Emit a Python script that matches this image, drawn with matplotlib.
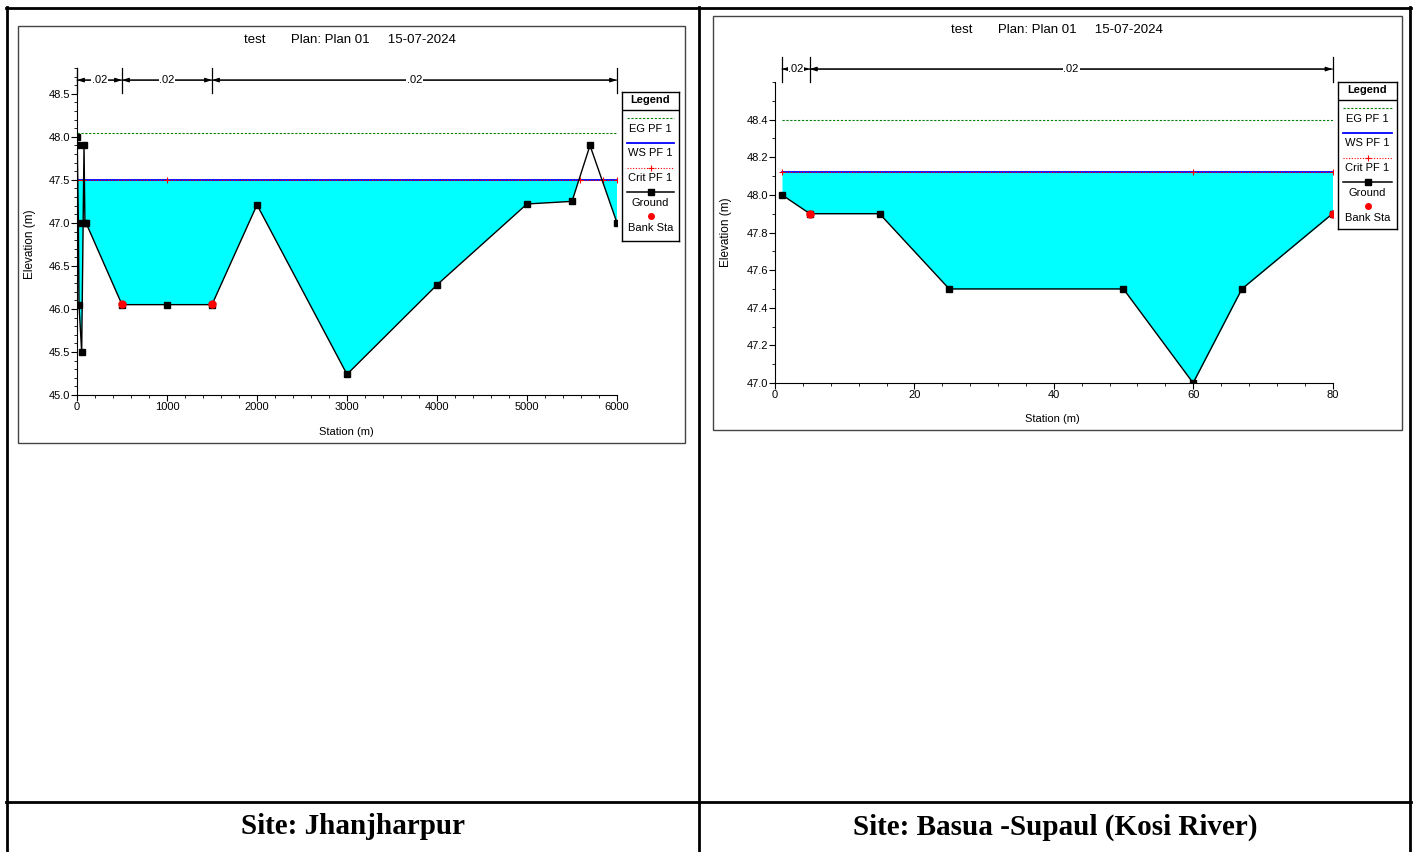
import matplotlib
matplotlib.use('Agg')
import matplotlib.pyplot as plt
from matplotlib.lines import Line2D
from matplotlib.patches import Rectangle
from matplotlib.ticker import MultipleLocator, FormatStrFormatter

plt.rcParams['font.family'] = ['Liberation Sans', 'DejaVu Sans']

W, H = 1418, 852

title = 'test       Plan: Plan 01     15-07-2024'

# Site: Jhanjharpur
sta_j = [0, 3, 15, 22, 52, 78, 88, 100, 500, 1000, 1500, 2000, 3000, 4000, 5000, 5500, 5700, 6000]
elev_j = [48.0, 47.9, 47.0, 46.05, 45.5, 47.9, 47.0, 47.0, 46.05, 46.05, 46.05, 47.21, 45.24, 46.28, 47.22, 47.25, 47.9, 47.0]
bank_sta_j = [500, 1500]
bank_elev_j = [46.06, 46.06]
ws_j = 47.5
eg_j = 48.04
crit_sta_j = [0, 63, 1000, 5590, 5840, 6000]
n_bounds_j = [0, 500, 1500, 6000]
n_vals_j = ['.02', '.02', '.02']

# Site: Basua -Supaul (Kosi River)
sta_b = [1, 5, 15, 25, 50, 60, 67, 80]
elev_b = [48.0, 47.9, 47.9, 47.5, 47.5, 47.0, 47.5, 47.9]
bank_sta_b = [5, 80]
bank_elev_b = [47.9, 47.9]
ws_b = 48.12
eg_b = 48.40
crit_sta_b = [1, 60, 80]
n_bounds_b = [1, 5, 80]
n_vals_b = ['.02', '.02']

captions = ['Site: Jhanjharpur', 'Site: Basua -Supaul (Kosi River)']


def frect(x0, y0, x1, y1):
    return [x0 / W, 1 - y1 / H, (x1 - x0) / W, (y1 - y0) / H]


def cross_section(ax, sta, elev, bank_sta, bank_elev, ws, eg, crit_sta,
                  n_bounds, n_vals, bar_y, tick_lo, tick_hi):
    ws_line = [ws] * len(sta)
    ax.fill_between(sta, elev, ws_line, where=[e < ws for e in elev],
                    interpolate=True, color='#00ffff', lw=0, zorder=1)
    ax.plot([sta[0], sta[-1]], [eg, eg], color='#008000', lw=0.8,
            ls=(0, (2, 1.5)), zorder=2)
    ax.plot([sta[0], sta[-1]], [ws, ws], color='#0000ff', lw=1.3, zorder=3)
    ax.plot(crit_sta, [ws] * len(crit_sta), color='#ff0000', lw=0.8,
            ls=(0, (1, 1.5)), marker='+', ms=5, mew=0.8, zorder=4)
    ax.plot(sta, elev, color='black', lw=1.0, marker='s', ms=4.5, zorder=5)
    ax.plot(bank_sta, bank_elev, ls='none', marker='o', ms=5,
            color='#ff0000', zorder=6)

    # manning n bar
    tr = ax.get_xaxis_transform()
    head = '-|>,head_length=0.4,head_width=0.13'
    for b in n_bounds:
        ax.plot([b, b], [tick_lo, tick_hi], color='black', lw=0.9,
                transform=tr, clip_on=False)
    for i, n in enumerate(n_vals):
        x0, x1 = n_bounds[i], n_bounds[i + 1]
        ax.annotate('', xy=(x1, bar_y), xytext=(x0, bar_y), xycoords=tr,
                    textcoords=tr,
                    arrowprops=dict(arrowstyle=head, color='black', lw=0.8,
                                    shrinkA=0, shrinkB=0))
        ax.annotate('', xy=(x0, bar_y), xytext=(x1, bar_y), xycoords=tr,
                    textcoords=tr,
                    arrowprops=dict(arrowstyle=head, color='black', lw=0.8,
                                    shrinkA=0, shrinkB=0))
        ax.text((x0 + x1) / 2, bar_y, n, transform=tr, ha='center', va='center',
                fontsize=8, bbox=dict(fc='white', ec='none', pad=0.5), zorder=10)

    for s in ['top', 'right']:
        ax.spines[s].set_visible(False)
    ax.tick_params(which='major', direction='out', length=4, labelsize=8, pad=1)
    ax.tick_params(which='minor', direction='out', length=2.5)
    ax.yaxis.set_major_formatter(FormatStrFormatter('%.1f'))


def legend_box(x0, y0, x1, y1):
    lg = plt.gcf().add_axes(frect(x0, y0, x1, y1))
    w, h = x1 - x0, y1 - y0
    lg.set_xlim(0, w)
    lg.set_ylim(h, 0)
    lg.set_xticks([])
    lg.set_yticks([])
    for s in lg.spines.values():
        s.set_linewidth(1.0)
    lg.text(w / 2, 8, 'Legend', ha='center', va='center', fontsize=8, fontweight='bold')
    lg.plot([0, w], [18, 18], color='black', lw=1.0)
    m = 5
    lg.plot([m, w - m], [26, 26], color='#008000', lw=0.8, ls=(0, (2, 1.5)))
    lg.plot([m, w - m], [51, 51], color='#0000ff', lw=1.3)
    lg.plot([m, w - m], [76, 76], color='#ff0000', lw=0.8, ls=(0, (1, 1.5)))
    lg.plot([w / 2], [76], marker='+', color='#ff0000', ms=5, mew=0.8)
    lg.plot([m, w - m], [100, 100], color='black', lw=1.1)
    lg.plot([w / 2], [100], marker='s', color='black', ms=4.5)
    lg.plot([w / 2], [124], marker='o', color='#ff0000', ms=4)
    for yy, t in zip([37, 61, 86, 111, 136],
                     ['EG PF 1', 'WS PF 1', 'Crit PF 1', 'Ground', 'Bank Sta']):
        lg.text(w / 2, yy, t, ha='center', va='center', fontsize=8)


fig = plt.figure(figsize=(W / 100, H / 100), dpi=100)

# table lines
for xx in [7, 699, 1410]:
    fig.add_artist(Line2D([xx / W, xx / W], [1 - 7 / H, 0], color='black', lw=2))
for yy in [8, 802]:
    fig.add_artist(Line2D([6 / W, 1411 / W], [1 - yy / H, 1 - yy / H], color='black', lw=2))

# chart frames
for (x0, y0, x1, y1) in [(18, 26, 685, 443), (713, 16, 1402, 430)]:
    fig.add_artist(Rectangle((x0 / W, 1 - y1 / H), (x1 - x0) / W, (y1 - y0) / H,
                             transform=fig.transFigure, fill=False,
                             ec='#444444', lw=1))

# left chart
ax1 = fig.add_axes(frect(77, 68, 617, 395))
cross_section(ax1, sta_j, elev_j, bank_sta_j, bank_elev_j, ws_j, eg_j, crit_sta_j,
              n_bounds_j, n_vals_j, 0.963, 0.924, 1.0)
ax1.set_xlim(0, 6000)
ax1.set_ylim(45.0, 48.8)
ax1.set_xticks(range(0, 6001, 1000))
ax1.set_yticks([45.0, 45.5, 46.0, 46.5, 47.0, 47.5, 48.0, 48.5])
ax1.xaxis.set_minor_locator(MultipleLocator(200))
ax1.yaxis.set_minor_locator(MultipleLocator(0.1))
fig.text(350 / W, 1 - 40 / H, title, ha='center', va='center', fontsize=9.5)
fig.text(30 / W, 1 - 244 / H, 'Elevation (m)', rotation=90, ha='center', va='center', fontsize=8.5)
fig.text(346 / W, 1 - 432 / H, 'Station (m)', ha='center', va='center', fontsize=8)
legend_box(622, 92, 679, 241)

# right chart
ax2 = fig.add_axes(frect(775, 82, 1332.5, 383))
cross_section(ax2, sta_b, elev_b, bank_sta_b, bank_elev_b, ws_b, eg_b, crit_sta_b,
              n_bounds_b, n_vals_b, 1.043, 1.0, 1.083)
ax2.set_xlim(0, 80)
ax2.set_ylim(47.0, 48.6)
ax2.set_xticks(range(0, 81, 20))
ax2.set_yticks([47.0, 47.2, 47.4, 47.6, 47.8, 48.0, 48.2, 48.4])
ax2.xaxis.set_minor_locator(MultipleLocator(4))
ax2.yaxis.set_minor_locator(MultipleLocator(0.1))
fig.text(1057 / W, 1 - 30 / H, title, ha='center', va='center', fontsize=9.5)
fig.text(726 / W, 1 - 232 / H, 'Elevation (m)', rotation=90, ha='center', va='center', fontsize=8.5)
fig.text(1052 / W, 1 - 419 / H, 'Station (m)', ha='center', va='center', fontsize=8)
legend_box(1338, 82, 1397, 229)

# captions
for cx, cap in zip([353, 1055], captions):
    fig.text(cx / W, 1 - 827 / H, cap, ha='center', va='center', fontsize=21,
             fontweight='bold', family=['Liberation Serif', 'DejaVu Serif'])

fig.savefig('out.png', dpi=100)
